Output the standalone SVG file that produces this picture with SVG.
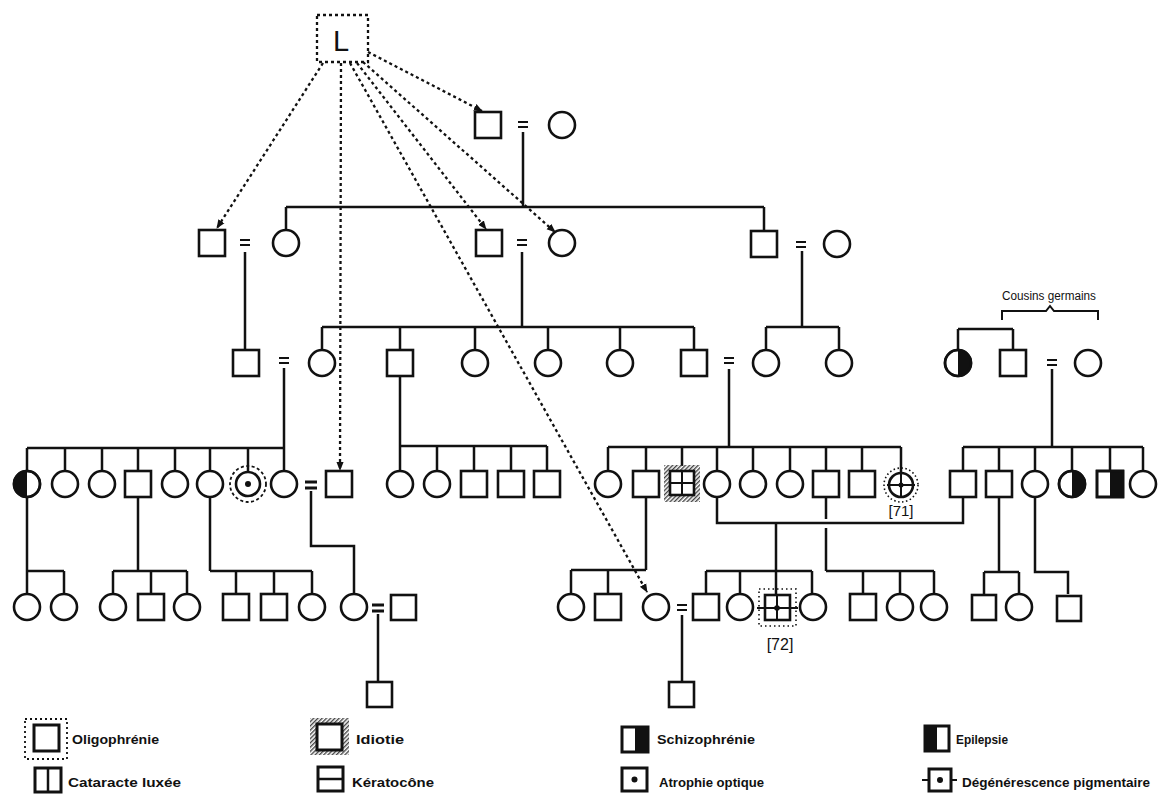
<svg xmlns="http://www.w3.org/2000/svg" width="1160" height="794" viewBox="0 0 1160 794">
<style>
.l{stroke:#111;stroke-width:2.5;fill:none}
.s{fill:#fff;stroke:#111;stroke-width:2.6}
.d{stroke:#111;stroke-width:2.3;stroke-dasharray:3 3;fill:none}
.e{stroke:#111;stroke-width:2;fill:none}
.eb{stroke:#111;stroke-width:3;fill:none}
.blk{fill:#111}
.lg{font-family:"Liberation Sans Narrow","Liberation Sans",sans-serif;font-weight:bold;font-size:13px;fill:#111}
.lb{font-family:"Liberation Sans",sans-serif;font-size:15px;fill:#111}
</style>
<defs>
<marker id="ah" viewBox="0 0 10 10" refX="9" refY="5" markerWidth="9" markerHeight="9" markerUnits="userSpaceOnUse" orient="auto"><path d="M0,1 L10,5 L0,9 z" fill="#111"/></marker>
<pattern id="hatch" width="3" height="3" patternUnits="userSpaceOnUse" patternTransform="rotate(45)"><rect width="1.4" height="3" fill="#444"/></pattern>
</defs>
<rect width="1160" height="794" fill="#fff"/>

<!-- connectors -->
<g id="connectors">
<path class="l" d="M523,132V207 M286,207H764 M286,207V230 M764,207V231"/>
<path class="l" d="M245,252V350 M522,252V327 M322,327H694 M322,327V350 M400,327V350 M475,327V350 M548,327V350 M620,327V350 M694,327V350"/>
<path class="l" d="M802,251V327 M766,327H839 M766,327V350 M839,327V350"/>
<path class="l" d="M958,329H1013 M958,329V350 M1013,329V350"/>
<path class="l" d="M284,368V448 M27,448H284 M27,448V471 M65,448V471 M102,448V471 M138,448V471 M175,448V471 M210,448V471 M248,448V471 M284,448V471"/>
<path class="l" d="M400,376V446 M400,446H547 M400,446V471 M437,446V471 M474,446V471 M511,446V471 M547,446V471"/>
<path class="l" d="M729,369V447 M608,447H901 M608,447V471 M646,447V471 M682,447V466 M717,447V471 M753,447V471 M790,447V471 M826,447V471 M862,447V471 M901,447V472"/>
<path class="l" d="M1052,369V447 M963,447H1143 M963,447V471 M999,447V471 M1035,447V471 M1072,447V471 M1110,447V471 M1143,447V471"/>
<path class="l" d="M27,497V594 M27,571H64 M64,571V594"/>
<path class="l" d="M138,497V571 M113,571H187 M113,571V594 M151,571V594 M187,571V594"/>
<path class="l" d="M210,497V571 M210,571H312 M236,571V594 M274,571V594 M312,571V594"/>
<path class="l" d="M311,491V546H354V594"/>
<path class="l" d="M646,497V570 M571,570H646 M571,570V594 M608,570V594"/>
<path class="l" d="M717,497V523H963V497 M776,523V595 M706,571H812 M706,571V594 M740,571V594 M812,571V594"/>
<path class="l" d="M826,497V519 M826,528V571 M826,571H934 M863,571V594 M900,571V594 M934,571V594"/>
<path class="l" d="M999,497V572 M984,572H1019 M984,572V594 M1019,572V594"/>
<path class="l" d="M1035,497V572H1068V594"/>
<path class="l" d="M378,614V682 M682,615V682"/>
<path class="e" d="M518,122H528 M518,127H528"/>
<path class="e" d="M240,240H250 M240,245H250 M517,240H527 M517,245H527 M796,242H806 M796,247H806"/>
<path class="e" d="M279,358H289 M279,363H289 M724,358H734 M724,363H734 M1047,360H1057 M1047,365H1057"/>
<path class="eb" d="M305,482H317 M305,488H317 M372,605H384 M372,611H384"/>
<path class="e" d="M677,605H687 M677,610H687"/>
<path class="d" d="M323,63L217,228" marker-end="url(#ah)"/>
<path class="d" d="M341,63L340,470" marker-end="url(#ah)"/>
<path class="d" d="M350,63L647,592" marker-end="url(#ah)"/>
<path class="d" d="M357,63L486,229" marker-end="url(#ah)"/>
<path class="d" d="M363,62L555,232" marker-end="url(#ah)"/>
<path class="d" d="M368,52L482,111" marker-end="url(#ah)"/>
<path class="e" d="M1002,320V311H1046L1050,306L1054,311H1098V320"/>
</g>

<g id="L">
<rect x="317" y="15" width="51" height="47" class="d"/>
<text x="341" y="51" text-anchor="middle" style="font-family:'Liberation Sans',sans-serif;font-size:29px;fill:#111">L</text>
</g>

<g id="g1-man"><rect class="s" x="475" y="112" width="26" height="26"/></g>
<g id="g1-woman"><circle class="s" cx="562" cy="125" r="13"/></g>

<g id="g2-m1"><rect class="s" x="199" y="230" width="26" height="26"/></g>
<g id="g2-f1"><circle class="s" cx="286" cy="243" r="13"/></g>
<g id="g2-m2"><rect class="s" x="476" y="230" width="26" height="26"/></g>
<g id="g2-f2"><circle class="s" cx="562" cy="243" r="13"/></g>
<g id="g2-m3"><rect class="s" x="751" y="231" width="26" height="26"/></g>
<g id="g2-f3"><circle class="s" cx="837" cy="244" r="13"/></g>

<g id="g3-1"><rect class="s" x="233" y="350" width="26" height="26"/></g>
<g id="g3-2"><circle class="s" cx="322" cy="363" r="13"/></g>
<g id="g3-3"><rect class="s" x="387" y="350" width="26" height="26"/></g>
<g id="g3-4"><circle class="s" cx="475" cy="363" r="13"/></g>
<g id="g3-5"><circle class="s" cx="548" cy="363" r="13"/></g>
<g id="g3-6"><circle class="s" cx="620" cy="363" r="13"/></g>
<g id="g3-7"><rect class="s" x="681" y="350" width="26" height="26"/></g>
<g id="g3-8"><circle class="s" cx="766" cy="363" r="13"/></g>
<g id="g3-9"><circle class="s" cx="839" cy="363" r="13"/></g>
<g id="g3-10"><circle class="s" cx="958" cy="363" r="13"/><path class="blk" d="M958,350A13,13 0 0 1 958,376Z"/><circle cx="958" cy="363" r="13" fill="none" stroke="#111" stroke-width="2.6"/></g>
<g id="g3-11"><rect class="s" x="1000" y="350" width="26" height="26"/></g>
<g id="g3-12"><circle class="s" cx="1088" cy="363" r="13"/></g>
<g id="cousins"><text x="1049" y="300" text-anchor="middle" style="font-family:'Liberation Sans Narrow','Liberation Sans',sans-serif;font-size:12px;fill:#111" textLength="94" lengthAdjust="spacingAndGlyphs">Cousins germains</text></g>

<g id="g4-1"><circle class="s" cx="27" cy="484" r="13"/><path class="blk" d="M27,471A13,13 0 0 0 27,497Z"/><circle cx="27" cy="484" r="13" fill="none" stroke="#111" stroke-width="2.6"/></g>
<g id="g4-2"><circle class="s" cx="65" cy="484" r="13"/></g>
<g id="g4-3"><circle class="s" cx="102" cy="484" r="13"/></g>
<g id="g4-4"><rect class="s" x="125" y="471" width="26" height="26"/></g>
<g id="g4-5"><circle class="s" cx="175" cy="484" r="13"/></g>
<g id="g4-6"><circle class="s" cx="210" cy="484" r="13"/></g>
<g id="g4-7"><circle cx="248" cy="484" r="18" fill="none" stroke="#111" stroke-width="1.8" stroke-dasharray="3 2.5"/><circle class="s" cx="248" cy="484" r="12"/><circle class="blk" cx="248" cy="484" r="3"/></g>
<g id="g4-8"><circle class="s" cx="284" cy="484" r="13"/></g>
<g id="g4-9"><rect class="s" x="326" y="471" width="26" height="26"/></g>
<g id="g4-10"><circle class="s" cx="400" cy="484" r="13"/></g>
<g id="g4-11"><circle class="s" cx="437" cy="484" r="13"/></g>
<g id="g4-12"><rect class="s" x="461" y="471" width="26" height="26"/></g>
<g id="g4-13"><rect class="s" x="498" y="471" width="26" height="26"/></g>
<g id="g4-14"><rect class="s" x="534" y="471" width="26" height="26"/></g>
<g id="g4-15"><circle class="s" cx="608" cy="484" r="13"/></g>
<g id="g4-16"><rect class="s" x="633" y="471" width="26" height="26"/></g>
<g id="g4-17"><path fill="url(#hatch)" fill-rule="evenodd" d="M664,465H700V502H664Z M670,471V495H694V471Z"/><rect class="s" x="670" y="471" width="24" height="24"/><path class="e" d="M682,471V495 M670,483H694"/></g>
<g id="g4-18"><circle class="s" cx="717" cy="484" r="13"/></g>
<g id="g4-19"><circle class="s" cx="753" cy="484" r="13"/></g>
<g id="g4-20"><circle class="s" cx="790" cy="484" r="13"/></g>
<g id="g4-21"><rect class="s" x="813" y="471" width="26" height="26"/></g>
<g id="g4-22"><rect class="s" x="849" y="471" width="26" height="26"/></g>
<g id="g4-71"><circle cx="901" cy="485" r="17" fill="none" stroke="#111" stroke-width="1.6" stroke-dasharray="1.5 2.5"/><circle class="s" cx="901" cy="485" r="12"/><path class="e" d="M887,485H915 M901,472V498"/><circle class="blk" cx="901" cy="485" r="2.5"/><text class="lb" x="901" y="516" text-anchor="middle">[71]</text></g>
<g id="g4-23"><rect class="s" x="950" y="471" width="26" height="26"/></g>
<g id="g4-24"><rect class="s" x="986" y="471" width="26" height="26"/></g>
<g id="g4-25"><circle class="s" cx="1035" cy="484" r="13"/></g>
<g id="g4-26"><circle class="s" cx="1072" cy="484" r="13"/><path class="blk" d="M1072,471A13,13 0 0 1 1072,497Z"/><circle cx="1072" cy="484" r="13" fill="none" stroke="#111" stroke-width="2.6"/></g>
<g id="g4-27"><rect class="s" x="1097" y="471" width="26" height="26"/><rect class="blk" x="1110" y="471" width="13" height="26"/><rect x="1097" y="471" width="26" height="26" fill="none" stroke="#111" stroke-width="2.6"/></g>
<g id="g4-28"><circle class="s" cx="1143" cy="484" r="13"/></g>

<g id="g5-1"><circle class="s" cx="27" cy="607" r="13"/></g>
<g id="g5-2"><circle class="s" cx="64" cy="607" r="13"/></g>
<g id="g5-3"><circle class="s" cx="113" cy="607" r="13"/></g>
<g id="g5-4"><rect class="s" x="138" y="594" width="26" height="26"/></g>
<g id="g5-5"><circle class="s" cx="187" cy="607" r="13"/></g>
<g id="g5-6"><rect class="s" x="223" y="594" width="26" height="26"/></g>
<g id="g5-7"><rect class="s" x="261" y="594" width="26" height="26"/></g>
<g id="g5-8"><circle class="s" cx="312" cy="607" r="13"/></g>
<g id="g5-9"><circle class="s" cx="354" cy="607" r="13"/></g>
<g id="g5-10"><rect class="s" x="391" y="595" width="25" height="25"/></g>
<g id="g5-11"><circle class="s" cx="571" cy="607" r="13"/></g>
<g id="g5-12"><rect class="s" x="595" y="594" width="26" height="26"/></g>
<g id="g5-13"><circle class="s" cx="656" cy="607" r="13"/></g>
<g id="g5-14"><rect class="s" x="693" y="594" width="26" height="26"/></g>
<g id="g5-15"><circle class="s" cx="740" cy="607" r="13"/></g>
<g id="g5-72"><rect x="759" y="589" width="37" height="37" fill="none" stroke="#111" stroke-width="1.6" stroke-dasharray="1.5 3"/><rect class="s" x="765" y="595" width="25" height="25"/><path class="e" d="M757,608H798 M777,595V620"/><circle class="blk" cx="777" cy="608" r="2.8"/><text class="lb" x="780" y="650" text-anchor="middle" style="font-size:16px">[72]</text></g>
<g id="g5-16"><circle class="s" cx="813" cy="607" r="13"/></g>
<g id="g5-17"><rect class="s" x="850" y="594" width="26" height="26"/></g>
<g id="g5-18"><circle class="s" cx="900" cy="607" r="13"/></g>
<g id="g5-19"><circle class="s" cx="934" cy="607" r="13"/></g>
<g id="g5-20"><rect class="s" x="972" y="595" width="24" height="25"/></g>
<g id="g5-21"><circle class="s" cx="1019" cy="607" r="13"/></g>
<g id="g5-22"><rect class="s" x="1057" y="596" width="24" height="25"/></g>

<g id="g6-1"><rect class="s" x="367" y="682" width="25" height="25"/></g>
<g id="g6-2"><rect class="s" x="669" y="682" width="25" height="25"/></g>

<g id="leg-oligo"><rect x="25" y="719" width="42" height="40" fill="none" stroke="#111" stroke-width="1.8" stroke-dasharray="2 3"/><rect x="34" y="725" width="25" height="26" fill="#fff" stroke="#111" stroke-width="3"/><text class="lg" x="72" y="744" textLength="87" lengthAdjust="spacingAndGlyphs">Oligophrénie</text></g>
<g id="leg-cat"><rect x="35" y="768" width="26" height="24" fill="#fff" stroke="#111" stroke-width="3"/><path d="M48,768V792" stroke="#111" stroke-width="2.5"/><text class="lg" x="68" y="787" textLength="113" lengthAdjust="spacingAndGlyphs">Cataracte luxée</text></g>
<g id="leg-idiot"><path fill="url(#hatch)" fill-rule="evenodd" d="M310,718H349V755H310Z M317,724V750H342V724Z"/><rect x="317" y="724" width="25" height="26" fill="#fff" stroke="#111" stroke-width="3"/><text class="lg" x="356" y="744" textLength="48" lengthAdjust="spacingAndGlyphs">Idiotie</text></g>
<g id="leg-kera"><rect x="318" y="767" width="25" height="24" fill="#fff" stroke="#111" stroke-width="3"/><path d="M318,779H343" stroke="#111" stroke-width="2.5"/><text class="lg" x="352" y="787" textLength="82" lengthAdjust="spacingAndGlyphs">Kératocône</text></g>
<g id="leg-schizo"><rect x="622" y="727" width="26" height="25" fill="#fff" stroke="#111" stroke-width="3"/><rect x="635" y="727" width="13" height="25" fill="#111"/><text class="lg" x="657" y="744" textLength="98" lengthAdjust="spacingAndGlyphs">Schizophrénie</text></g>
<g id="leg-atro"><rect x="622" y="768" width="25" height="23" fill="#fff" stroke="#111" stroke-width="3"/><circle cx="634.5" cy="779.5" r="3" fill="#111"/><text class="lg" x="659" y="787" textLength="105" lengthAdjust="spacingAndGlyphs">Atrophie optique</text></g>
<g id="leg-epi"><rect x="925" y="726" width="24" height="25" fill="#fff" stroke="#111" stroke-width="3"/><rect x="925" y="726" width="12" height="25" fill="#111"/><text class="lg" x="956" y="744" textLength="52" lengthAdjust="spacingAndGlyphs">Epilepsie</text></g>
<g id="leg-degen"><path d="M922,780H957" stroke="#111" stroke-width="2"/><rect x="929" y="769" width="22" height="22" fill="#fff" stroke="#111" stroke-width="3"/><circle cx="940" cy="780" r="3" fill="#111"/><text class="lg" x="962" y="787" textLength="188" lengthAdjust="spacingAndGlyphs">Dégénérescence pigmentaire</text></g>
</svg>
